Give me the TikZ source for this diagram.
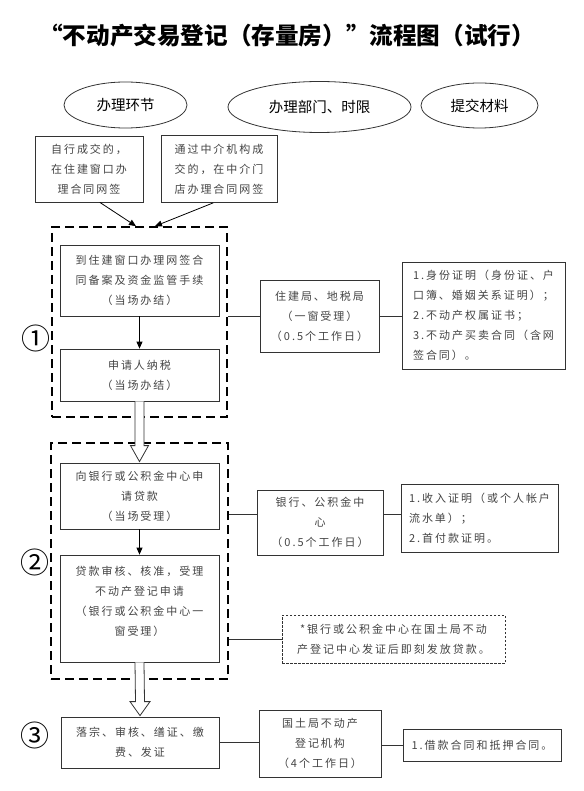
\documentclass[tikz,border=0pt]{standalone}
\usepackage{fontspec}
\usetikzlibrary{shapes.geometric,calc,arrows.meta}
\newfontfamily\cjk{Noto Sans CJK SC}
\newfontfamily\cjksp[LetterSpace=18]{Noto Sans CJK SC}
\definecolor{txtgray}{HTML}{444444}
\definecolor{linegray}{HTML}{333333}
\tikzset{
  stepbox/.style={draw=linegray,line width=0.8pt,inner sep=0pt,align=center,
    text=txtgray,font=\fontsize{11}{20}\selectfont\cjksp},
  matbox/.style={stepbox,align=left},
  grpbox/.style={draw=black,line width=1.7pt,dash pattern=on 9pt off 5pt,inner sep=0pt},
  notebox/.style={stepbox,line width=0.7pt,dash pattern=on 2.5pt off 1.5pt},
  oval/.style={ellipse,draw=linegray,line width=0.8pt,inner sep=0pt,
    font=\fontsize{14.5}{16}\selectfont\cjk},
  circnum/.style={inner sep=0pt,font=\fontsize{29}{29}\selectfont\cjk},
  link/.style={draw=linegray,line width=0.8pt},
  arr/.style={draw=black,line width=0.8pt,-{Triangle[length=7pt,width=6pt]}},
  hollow/.style={draw=linegray,line width=0.8pt,fill=white,line join=miter},
}
\begin{document}
\begin{tikzpicture}[x=1pt,y=-1pt]
\useasboundingbox[fill=white] (0,0) rectangle (583,791);

\node (title) at (287,36) {\fontsize{23.6}{24}\selectfont\cjk\bfseries “不动产交易登记（存量房）”流程图（试行）};

\node[oval,minimum width=123pt,minimum height=46pt] (e1) at (125.5,105) {办理环节};
\node[oval,minimum width=183pt,minimum height=51pt] (e2) at (319.5,107) {办理部门、时限};
\node[oval,minimum width=117pt,minimum height=45pt] (e3) at (479.5,105.5) {提交材料};

\node[stepbox,minimum width=108pt,minimum height=66pt] (A) at (89,169) {自行成交的，\\在住建窗口办\\理合同网签};
\node[stepbox,minimum width=116pt,minimum height=67pt] (B) at (219,169) {通过中介机构成\\交的，在中介门\\店办理合同网签};

% stage 1
\node[grpbox,minimum width=175pt,minimum height=190pt] (d1) at (139.5,322) {};
\node[stepbox,minimum width=159pt,minimum height=71pt] (a1) at (139.5,280.5) {到住建窗口办理网签合\\同备案及资金监管手续\\（当场办结）};
\node[stepbox,minimum width=159pt,minimum height=52pt] (b1) at (139.5,375) {申请人纳税\\（当场办结）};
\node[circnum] (c1) at (36,338) {①};
\node[stepbox,minimum width=119pt,minimum height=72pt] (p1) at (319.5,316) {住建局、地税局\\（一窗受理）\\（0.5个工作日）};
\node[matbox,minimum width=163pt,minimum height=107pt] (m1) at (483.5,315.5) {1.身份证明（身份证、户\\口簿、婚姻关系证明）；\\2.不动产权属证书；\\3.不动产买卖合同（含网\\签合同）。};

% stage 2
\node[grpbox,minimum width=177pt,minimum height=236pt] (d2) at (139.5,561) {};
\node[stepbox,minimum width=159pt,minimum height=66pt] (a2) at (139.5,496) {向银行或公积金中心申\\请贷款\\（当场受理）};
\node[stepbox,minimum width=159pt,minimum height=107pt] (b2) at (139.5,608.5) {};
\node[stepbox,draw=none] (b2t) at (139.5,601) {贷款审核、核准，受理\\不动产登记申请\\（银行或公积金中心一\\窗受理）};
\node[circnum] (c2) at (35,562) {②};
\node[stepbox,minimum width=126pt,minimum height=65pt] (p2) at (320,522.5) {银行、公积金中\\心\\（0.5个工作日）};
\node[matbox,minimum width=157pt,minimum height=68pt] (m2) at (479.5,518) {1.收入证明（或个人帐户\\流水单）；\\2.首付款证明。};
\node[notebox,minimum width=223pt,minimum height=48pt] (n2) at (393.5,639) {*银行或公积金中心在国土局不动\\产登记中心发证后即刻发放贷款。};

% stage 3
\node[stepbox,minimum width=158pt,minimum height=51pt] (a3) at (140,742.5) {落宗、审核、缮证、缴\\费、发证};
\node[circnum] (c3) at (35,735) {③};
\node[stepbox,minimum width=122pt,minimum height=67pt] (p3) at (320,743.5) {国土局不动产\\登记机构\\（4个工作日）};
\node[matbox,minimum width=158pt,minimum height=32pt] (m3) at (482,745) {1.借款合同和抵押合同。};

% arrows into stage 1
\draw[arr] ($(A.south west)!0.6!(A.south east)$) -- ($(d1.north)+(-3.5,0)$);
\draw[arr] ($(B.south west)!0.45!(B.south east)$) -- ($(d1.north)+(15.5,0)$);
\draw[arr] (a1.south) -- (b1.north);
\draw[arr] (a2.south) -- (b2.north);

% connectors
\draw[link] (d1.east |- p1.west) -- (p1.west);
\draw[link] (p1.east) -- (m1.west |- p1.east);
\coordinate (l2) at ($(p2.west)+(0,-8)$);
\draw[link] (d2.east |- l2) -- (l2);
\draw[link] (p2.east |- l2) -- (m2.west |- l2);
\draw[link] (d2.east |- n2.west) -- (n2.west);
\draw[link] (a3.east) -- (p3.west |- a3.east);
\draw[link] (p3.east |- m3.west) -- (m3.west);

% hollow arrows
\draw[hollow] ($(b1.south)+(-4.5,0)$) -- ($(a2.north)+(-4.5,-17)$) -- ($(a2.north)+(-9,-17)$)
  -- ($(a2.north)+(0,-1)$) -- ($(a2.north)+(9,-17)$) -- ($(a2.north)+(4.5,-17)$) -- ($(b1.south)+(4.5,0)$);
\draw[hollow] ($(b2.south)+(-4.5,0)$) -- ($(a3.north)+(-4.5,-15)$) -- ($(a3.north)+(-10,-15)$)
  -- ($(a3.north)+(0,-1)$) -- ($(a3.north)+(10,-15)$) -- ($(a3.north)+(4.5,-15)$) -- ($(b2.south)+(4.5,0)$);
\end{tikzpicture}
\end{document}
